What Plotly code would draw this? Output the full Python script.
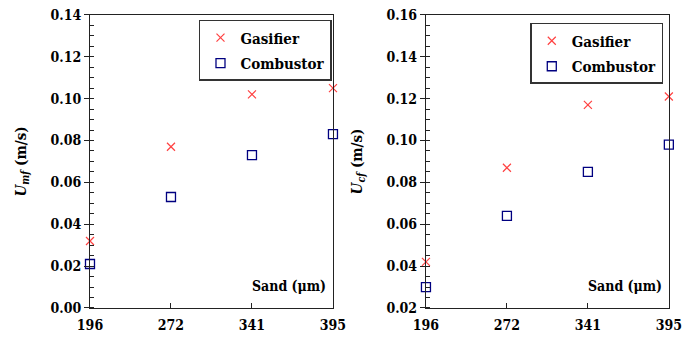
import plotly.graph_objects as go

sand = ["196", "272", "341", "395"]
umf_gasifier = [0.032, 0.077, 0.102, 0.105]
umf_combustor = [0.021, 0.053, 0.073, 0.083]
ucf_gasifier = [0.042, 0.087, 0.117, 0.121]
ucf_combustor = [0.030, 0.064, 0.085, 0.098]

FONT = "DejaVu Serif Condensed, DejaVu Serif, serif"
RED = "#ff4040"
BLUE = "#000080"

fig = go.Figure()

def add_pair(g, c, xa, ya, leg):
    fig.add_trace(go.Scatter(x=sand, y=g, mode="markers", name="Gasifier",
                             xaxis=xa, yaxis=ya, legend=leg, legendgroup=leg + "g",
                             cliponaxis=False,
                             marker=dict(symbol="x-thin", size=8, color=RED,
                                         line=dict(color=RED, width=1.2))))
    fig.add_trace(go.Scatter(x=sand, y=c, mode="markers", name="Combustor",
                             xaxis=xa, yaxis=ya, legend=leg, legendgroup=leg + "c",
                             cliponaxis=False,
                             marker=dict(symbol="square-open", size=9, color=BLUE,
                                         line=dict(color=BLUE, width=1.3))))

add_pair(umf_gasifier, umf_combustor, "x", "y", "legend")
add_pair(ucf_gasifier, ucf_combustor, "x2", "y2", "legend2")

tickfont = dict(family=FONT, size=14, color="black", weight="bold")
ydom = [0.0888, 0.956]

def xaxis(dom, anchor):
    return dict(domain=dom, anchor=anchor, type="category", range=[0, 3],
                automargin=False,
                showgrid=False, zeroline=False, showline=True, linecolor="#222",
                linewidth=1, mirror=True, ticks="inside", ticklen=5, tickcolor="#222",
                tickfont=tickfont, ticklabelstandoff=4)

def yaxis(rng, anchor, title):
    return dict(domain=ydom, anchor=anchor, range=rng, dtick=0.02, tickformat=".2f",
                automargin=False,
                showgrid=False, zeroline=False, showline=True, linecolor="#222",
                linewidth=1, mirror=True, ticks="outside", ticklen=5, tickcolor="#222",
                minor=dict(dtick=0.005, ticks="inside", ticklen=4, tickcolor="#222"),
                tickfont=tickfont,
                title=dict(text=title, font=dict(family=FONT, size=15, color="black", weight="bold"),
                           standoff=20))

def yinner(rng, anchor, over):
    return dict(domain=ydom, anchor=anchor, overlaying=over, range=rng, dtick=0.02,
                automargin=False, showgrid=False, zeroline=False, showline=False,
                ticks="inside", ticklen=5, tickcolor="#222", showticklabels=False)

legstyle = dict(bgcolor="white", bordercolor="#333", borderwidth=1.5,
                font=dict(family=FONT, size=15, color="black", weight="bold"),
                xanchor="right", yanchor="top", tracegroupgap=3, itemwidth=30)

fig.update_layout(
    width=696, height=338, margin=dict(l=0, r=0, t=0, b=0, autoexpand=False),
    paper_bgcolor="white", plot_bgcolor="white", showlegend=True,
    font=dict(family=FONT),
    xaxis=xaxis([0.1293, 0.4784], "y"),
    yaxis=yaxis([0, 0.14], "x", "<i>U</i><sub><i>mf</i></sub> (m/s)"),
    xaxis2=xaxis([0.612, 0.961], "y2"),
    yaxis2=yaxis([0.02, 0.16], "x2", "<i>U</i><sub><i>cf</i></sub> (m/s)"),
    yaxis3=yinner([0, 0.14], "x", "y"),
    yaxis4=yinner([0.02, 0.16], "x2", "y2"),
    legend=dict(x=0.4770, y=0.941, **legstyle),
    legend2=dict(x=0.953, y=0.932, **legstyle),
    annotations=[
        dict(text="Sand (μm)", xref="x domain", yref="y domain", x=0.98, y=0.04,
             xanchor="right", yanchor="bottom", showarrow=False,
             font=dict(family=FONT, size=14, color="black", weight="bold")),
        dict(text="Sand (μm)", xref="x2 domain", yref="y2 domain", x=0.98, y=0.04,
             xanchor="right", yanchor="bottom", showarrow=False,
             font=dict(family=FONT, size=14, color="black", weight="bold")),
    ],
)

fig.write_html("out.html", config={"displayModeBar": False},
               post_script="document.body.style.margin='0';")
